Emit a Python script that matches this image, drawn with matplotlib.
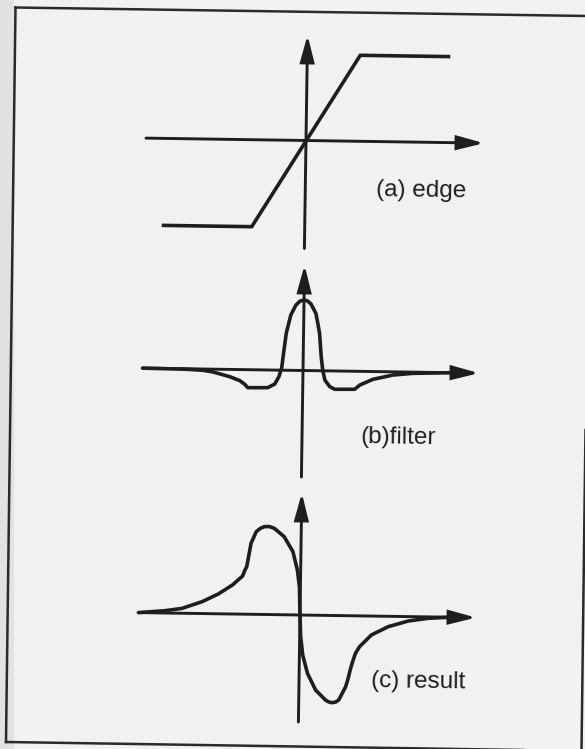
import matplotlib
matplotlib.use("Agg")
import matplotlib.pyplot as plt
from matplotlib.transforms import Affine2D

# ---- signals (position vs. response, one unit = one pixel at 100 dpi) ----
edge_x = [-143, -53, 53, 143]
edge_y = [-87, -87, 86, 86]

filter_x = [-161, -140, -116, -100, -90, -73, -63, -58, -55, -35, -28, -24,
            -21.3, -19.7, -17.3, -13, -8, -4, 0, 3.5, 7, 12, 14, 16, 18,
            19.7, 22, 27, 32, 52, 57, 70, 90, 110, 130, 150]
filter_y = [0, -0.2, -0.5, -1.3, -2.8, -7.3, -11.1, -14.7, -18, -17.7, -13.9,
            -6.5, 2.5, 16.9, 36.9, 55.3, 65.4, 69.3, 70.5, 69.6, 66.6, 57.4,
            48, 37.4, 14.1, 0.8, -9.2, -15.8, -18.3, -18, -13.7, -7.8, -3.2,
            -1.2, -0.6, 0]

result_x = [-162, -135, -118, -98, -82, -68, -58, -56, -54, -53, -52, -50,
            -45, -41, -37, -32, -27, -17, -8, -3.3, -1, 0, 1, 3.3, 8.3, 16.7,
            26.7, 30, 33.3, 37, 40, 46.7, 49, 51, 53.3, 56, 60, 71.7, 88.3,
            108.3, 128.3, 150]
result_y = [0, 2.3, 4.9, 11.9, 19.8, 29, 38.1, 43.5, 47.5, 53, 59.2, 71,
            82.6, 86, 87.8, 88, 86.3, 78.1, 63.2, 45, 28.3, 0, -21.7, -40,
            -58.2, -74.8, -84.6, -86.5, -87.2, -86.5, -84.4, -71, -63, -54.2,
            -45.9, -37.5, -30.8, -18.9, -10.4, -4.4, -1.4, 0]

labels = ["(a) edge", "(b)filter", "(c) result"]

# ---- layout ----
W, H = 585, 749
INK = "#1e1e1e"
PAPER = "#f1f1ef"
TILT = -0.85  # page sits slightly rotated on the scanner

fig = plt.figure(figsize=(W / 100, H / 100), dpi=100, facecolor=PAPER)

# outer frame of the figure box
frame = fig.add_axes([0, 0, 1, 1])
frame.set_xlim(0, W)
frame.set_ylim(H, 0)
frame.axis("off")
frame.patch.set_alpha(0)
frame.fill_between([0, 14], 0, H, color="#e2e2e0", lw=0)
for (x0, y0), (x1, y1) in [((15.5, 7.5), (588, 16)),
                           ((15.5, 7.5), (6, 742)),
                           ((6, 742), (588, 751)),
                           ((585.5, 430), (581.5, 752))]:
    frame.plot([x0, x1], [y0, y1], color="#2a2a2a", lw=1.8,
               solid_capstyle="projecting")


def panel(origin, h_span, v_span, xs, ys, label, label_xy):
    ox, oy = origin
    ax = fig.add_axes([0, 0, 1, 1])
    ax.set_xlim(-ox, W - ox)
    ax.set_ylim(oy - H, oy)
    ax.axis("off")
    ax.patch.set_alpha(0)
    tr = Affine2D().rotate_deg(TILT) + ax.transData

    arrow = dict(arrowstyle="-|>,head_length=1.6,head_width=0.42",
                 mutation_scale=10, lw=2.1, color=INK,
                 shrinkA=0, shrinkB=0, joinstyle="miter")
    ax.annotate("", xy=(h_span[1], 0), xytext=(h_span[0], 0),
                xycoords=tr, textcoords=tr, arrowprops=arrow)
    ax.annotate("", xy=(0, v_span[1]), xytext=(0, v_span[0]),
                xycoords=tr, textcoords=tr, arrowprops=arrow)

    ax.plot(xs, ys, color=INK, lw=2.6, transform=tr,
            solid_joinstyle="round", solid_capstyle="butt")

    ax.text(label_xy[0], label_xy[1], label, transform=tr,
            ha="left", va="center", fontsize=17.5, color=INK,
            family=["Liberation Sans", "DejaVu Sans"],
            rotation=TILT, rotation_mode="anchor")


panel((306, 140.5), (-160, 178), (-108, 105.5), edge_x, edge_y,
      labels[0], (71, -48.4))
panel((303, 370.5), (-161, 176), (-106.5, 105.5), filter_x, filter_y,
      labels[1], (59, -65.6))
panel((300, 615), (-162, 176), (-107, 122), result_x, result_y,
      labels[2], (72, -65))

fig.savefig("out.png", dpi=100, facecolor=PAPER)
